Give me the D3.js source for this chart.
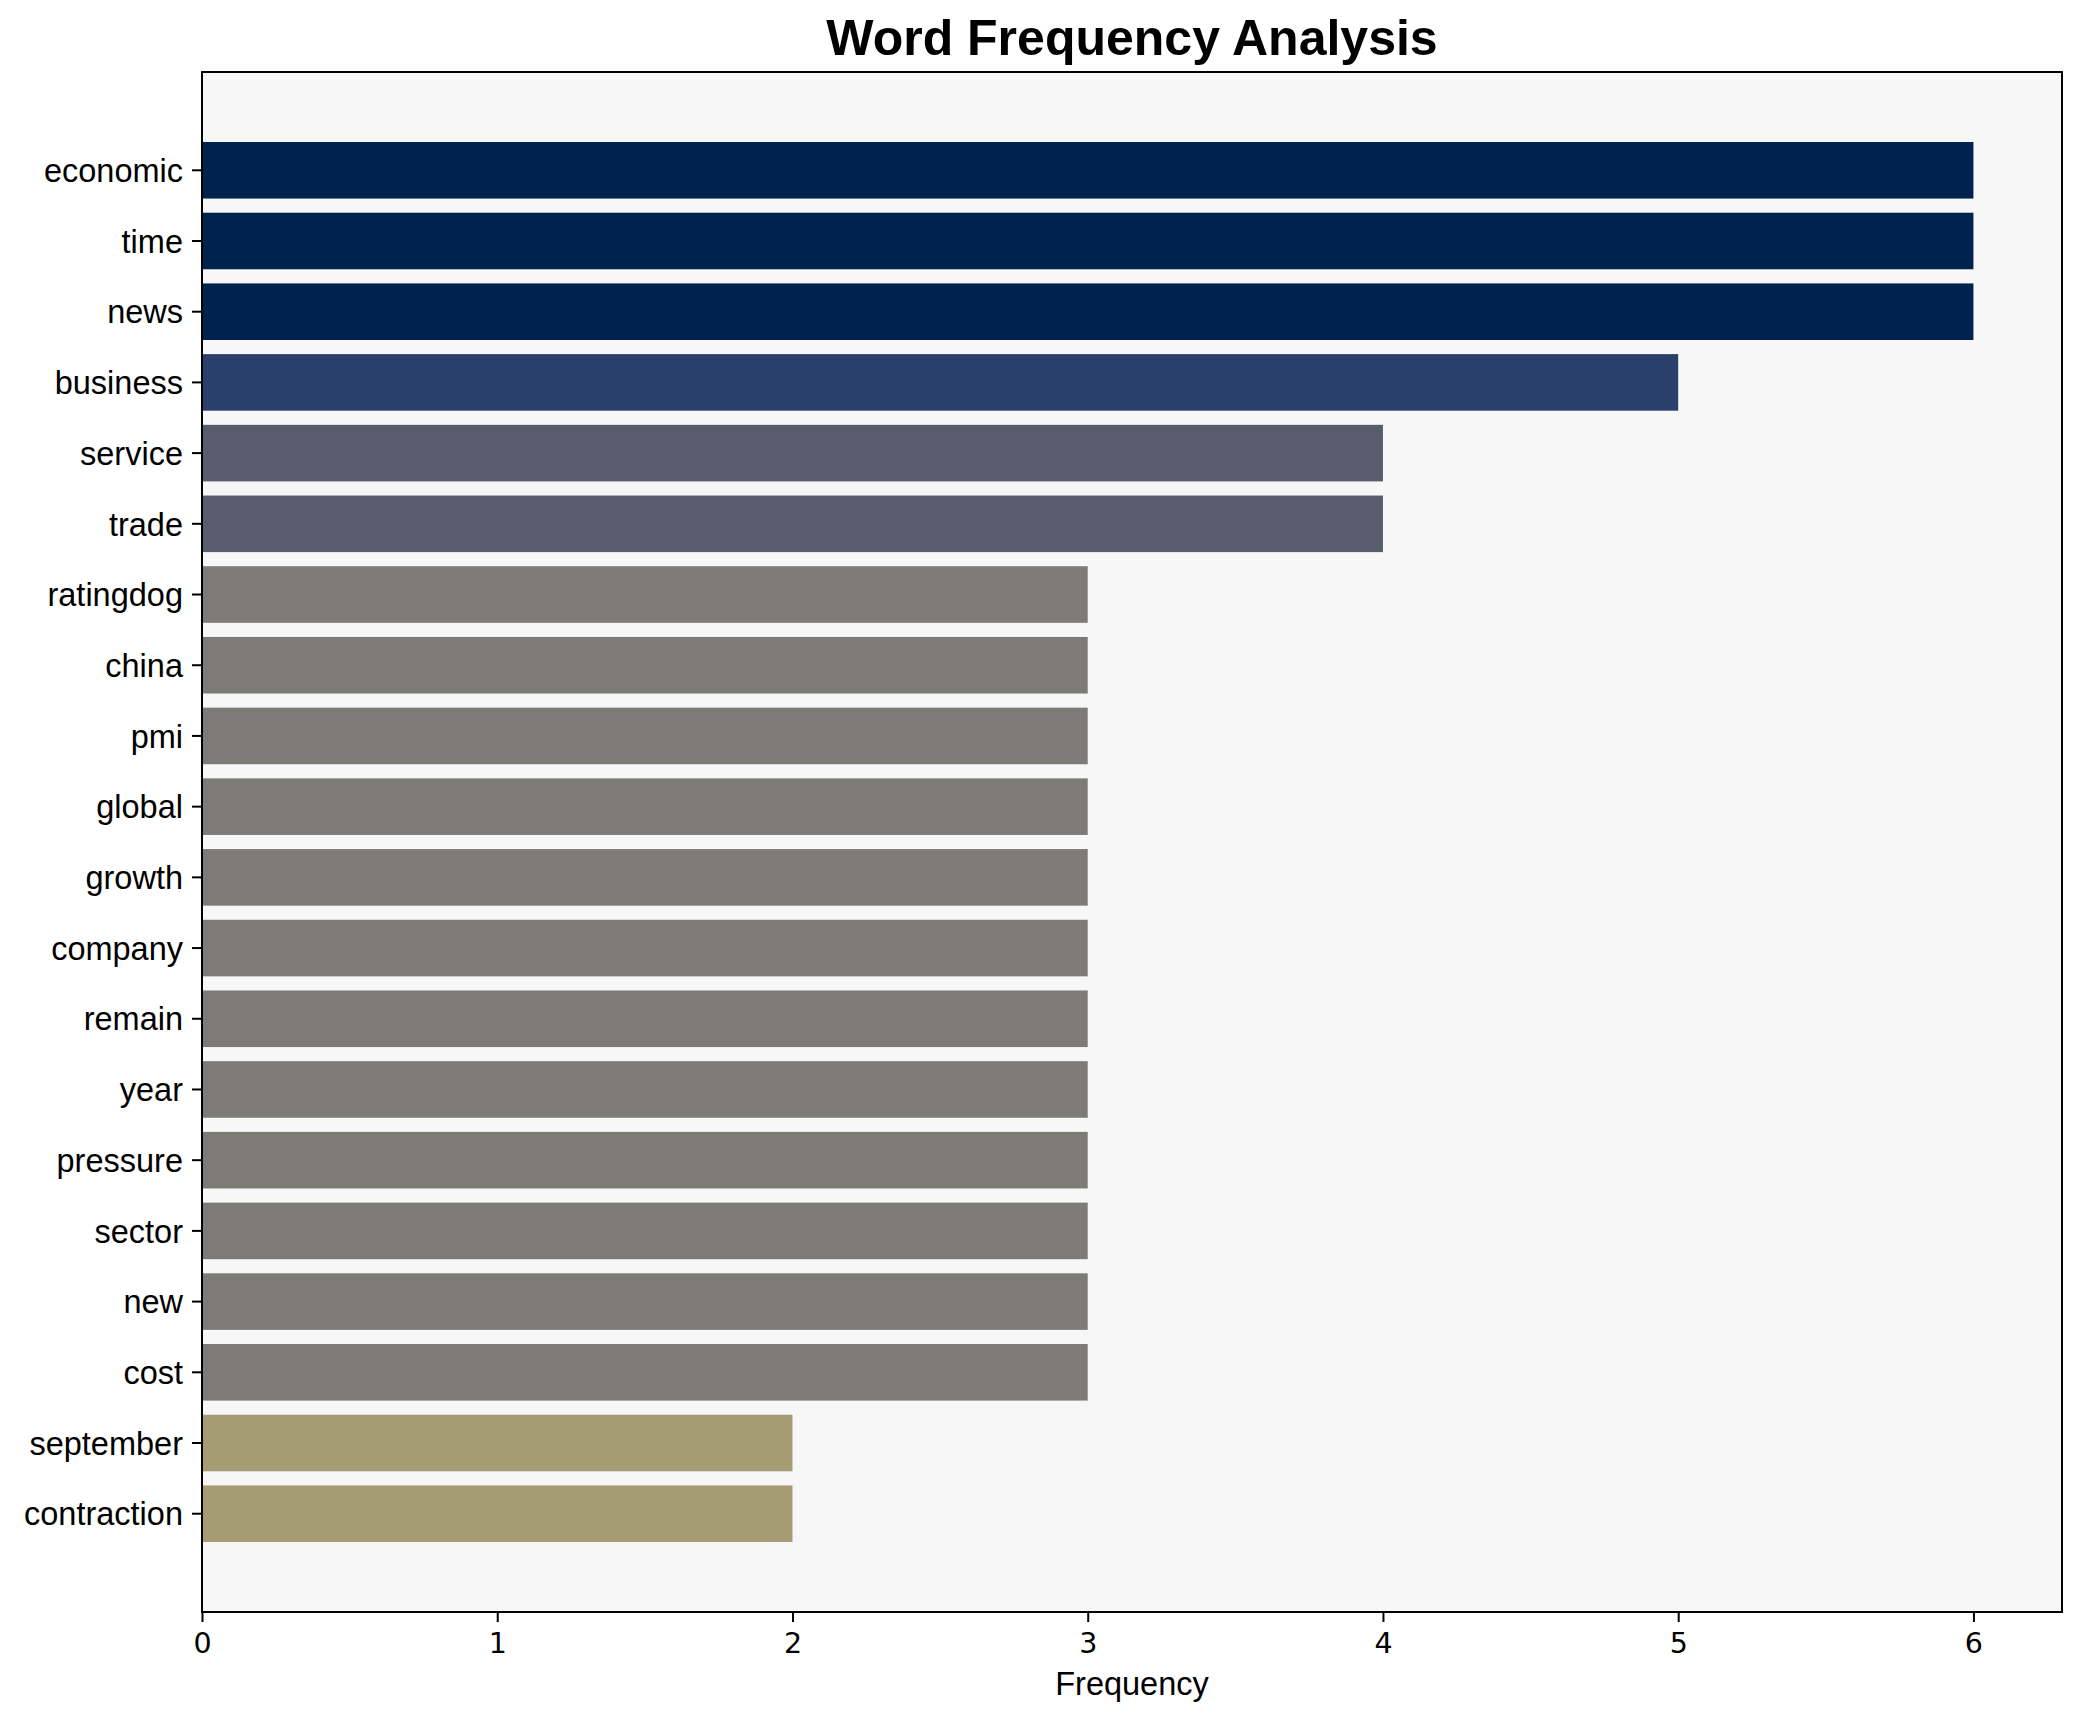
<!DOCTYPE html>
<html>
<head>
<meta charset="utf-8">
<script src="https://cdn.jsdelivr.net/npm/d3@7"></script>
<style>
  html, body { margin: 0; padding: 0; background: #ffffff; }
  svg { display: block; }
</style>
</head>
<body>
<div id="chart"></div>
<script>
// ---- data ----
const words = ["economic", "time", "news", "business", "service", "trade", "ratingdog", "china", "pmi", "global", "growth", "company", "remain", "year", "pressure", "sector", "new", "cost", "september", "contraction"];
const frequencies = [6, 6, 6, 5, 4, 4, 3, 3, 3, 3, 3, 3, 3, 3, 3, 3, 3, 3, 2, 2];
const xTicks = [0, 1, 2, 3, 4, 5, 6];
const titleText = "Word Frequency Analysis";
const xLabelText = "Frequency";

// ---- layout ----
const W = 2082, H = 1722;
const plot = { left: 202, right: 2062, top: 72, bottom: 1612 };

const svg = d3.select("#chart").append("svg")
  .attr("width", W).attr("height", H)
  .attr("viewBox", `0 0 ${W} ${H}`);

svg.append("rect").attr("x", 0).attr("y", 0).attr("width", W).attr("height", H).attr("fill", "#ffffff");

const x = d3.scaleLinear().domain([0, 6.3]).range([plot.left, plot.right]);
const y = d3.scaleBand().domain(words).range([plot.top, plot.bottom])
  .paddingInner(0.2).paddingOuter(0.99);

// colour: cividis(1 - v / max)
const color = d3.scaleLinear()
  .domain([6, 5, 4, 3, 2])
  .range(["#00224e", "#2b3f6c", "#575d6d", "#7c7b78", "#a59c74"]);

// plot background
svg.append("rect")
  .attr("x", plot.left).attr("y", plot.top)
  .attr("width", plot.right - plot.left).attr("height", plot.bottom - plot.top)
  .attr("fill", "#f7f7f7");

// bars
svg.append("g").selectAll("rect")
  .data(words.map((w, i) => ({ w, v: frequencies[i] })))
  .join("rect")
  .attr("x", x(0))
  .attr("y", d => y(d.w))
  .attr("width", d => x(d.v) - x(0))
  .attr("height", y.bandwidth())
  .attr("fill", d => color(d.v));

// axes
const fontSans = "'Liberation Sans', Arial, Helvetica, sans-serif";
const fontDejaVu = "'DejaVu Sans', sans-serif";

const yAxis = svg.append("g")
  .attr("transform", `translate(${plot.left},0)`)
  .call(d3.axisLeft(y).tickSize(10).tickPadding(9));
yAxis.select(".domain").remove();
yAxis.selectAll(".tick line").attr("stroke", "#000").attr("stroke-width", 2);
yAxis.selectAll(".tick text")
  .attr("font-family", fontSans).attr("font-size", 32.5)
  .attr("fill", "#000").attr("dy", "0.36em");

const xAxis = svg.append("g")
  .attr("transform", `translate(0,${plot.bottom})`)
  .call(d3.axisBottom(x).tickValues(xTicks).tickFormat(d3.format("d")).tickSize(10).tickPadding(11));
xAxis.select(".domain").remove();
xAxis.selectAll(".tick line").attr("stroke", "#000").attr("stroke-width", 2);
xAxis.selectAll(".tick text")
  .attr("font-family", fontDejaVu).attr("font-size", 28.5)
  .attr("fill", "#000");

// frame (spines)
svg.append("rect")
  .attr("x", plot.left).attr("y", plot.top)
  .attr("width", plot.right - plot.left).attr("height", plot.bottom - plot.top)
  .attr("fill", "none").attr("stroke", "#000").attr("stroke-width", 2);

// axis label
svg.append("text")
  .attr("x", (plot.left + plot.right) / 2).attr("y", 1695)
  .attr("text-anchor", "middle")
  .attr("font-family", fontSans).attr("font-size", 32.5).attr("fill", "#000")
  .text(xLabelText);

// title
svg.append("text")
  .attr("x", (plot.left + plot.right) / 2).attr("y", 55)
  .attr("text-anchor", "middle")
  .attr("font-family", fontSans).attr("font-size", 50).attr("font-weight", "bold").attr("fill", "#000")
  .text(titleText);
</script>
</body>
</html>
